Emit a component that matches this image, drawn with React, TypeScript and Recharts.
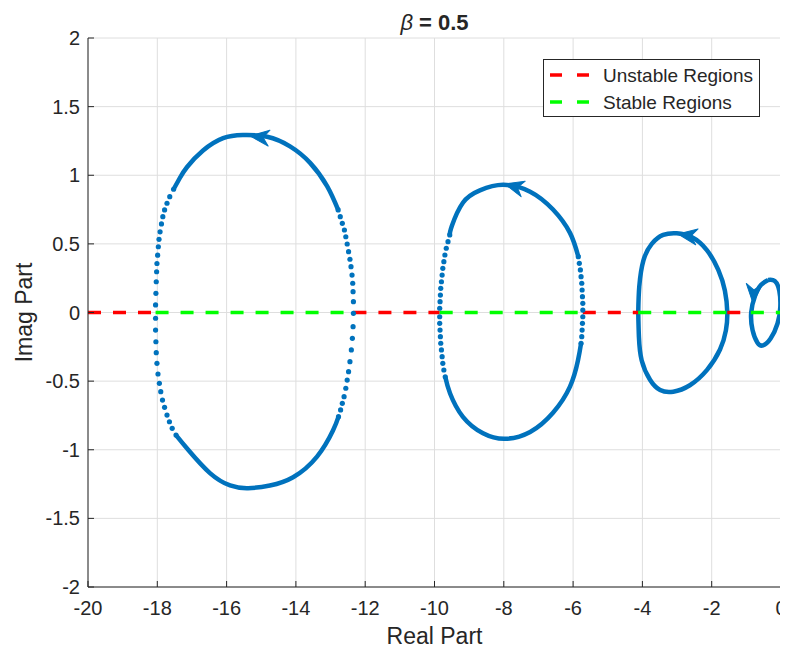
import React from 'react';
import { ComposedChart, Line, Scatter, XAxis, YAxis, CartesianGrid, Legend, Customized } from 'recharts';

const FONT = '"Liberation Sans", Arial, Helvetica, sans-serif';
const BLUE = '#0072BD';
const RED = '#FF0000';
const GREEN = '#00FF00';
const AXIS = '#262626';
const GRID = '#dedede';

const xTicks = [-20, -18, -16, -14, -12, -10, -8, -6, -4, -2, 0];
const yTicks = [-2, -1.5, -1, -0.5, 0, 0.5, 1, 1.5, 2];

const legendNames = ['Unstable Regions', 'Stable Regions'];
const legendColors = [RED, GREEN];

// real-axis segments [from, to]
const unstableSegments: [number, number][] = [[-20, -18.05], [-12.34, -9.85], [-5.72, -4.12], [-1.55, -0.87]];
const stableSegments: [number, number][] = [[-18.05, -12.34], [-9.85, -5.72], [-4.12, -1.55], [-0.87, 0]];

// loop 1 (around -15)
const loop1Top: [number, number][] = [[-17.53, 0.898], [-17.35, 0.98], [-17.14, 1.06], [-16.68, 1.18], [-16.1, 1.27], [-15.53, 1.293], [-14.83, 1.28], [-14.17, 1.21], [-13.59, 1.09], [-13.1, 0.92], [-12.78, 0.747]];
const loop1Bottom: [number, number][] = [[-17.46, -0.893], [-17.11, -1.0], [-16.48, -1.17], [-15.9, -1.26], [-15.38, -1.28], [-14.75, -1.26], [-14.08, -1.2], [-13.39, -1.05], [-12.93, -0.86], [-12.77, -0.759]];
const loop1DotsLeft: [number, number][] = [[-17.53, 0.898], [-17.64, 0.844], [-17.72, 0.796], [-17.79, 0.747], [-17.84, 0.698], [-17.88, 0.645], [-17.92, 0.588], [-17.95, 0.533], [-17.97, 0.479], [-17.99, 0.418], [-18.01, 0.357], [-18.02, 0.297], [-18.03, 0.224], [-18.04, 0.14], [-18.05, 0.055], [-18.05, -0.042], [-18.05, -0.128], [-18.04, -0.213], [-18.03, -0.293], [-18.01, -0.37], [-17.98, -0.448], [-17.94, -0.516], [-17.9, -0.577], [-17.85, -0.638], [-17.79, -0.691], [-17.72, -0.747], [-17.65, -0.796], [-17.57, -0.844], [-17.46, -0.893]];
const loop1DotsRight: [number, number][] = [[-12.78, 0.747], [-12.72, 0.698], [-12.66, 0.65], [-12.6, 0.601], [-12.56, 0.552], [-12.52, 0.499], [-12.48, 0.443], [-12.44, 0.388], [-12.41, 0.334], [-12.38, 0.273], [-12.36, 0.213], [-12.35, 0.152], [-12.34, 0.079], [-12.34, -0.006], [-12.35, -0.103], [-12.37, -0.188], [-12.4, -0.273], [-12.44, -0.358], [-12.48, -0.431], [-12.52, -0.492], [-12.56, -0.552], [-12.61, -0.613], [-12.66, -0.662], [-12.71, -0.71], [-12.77, -0.759]];

// loop 2 (around -8)
const loop2Top: [number, number][] = [[-9.56, 0.565], [-9.5, 0.63], [-9.18, 0.8], [-8.69, 0.89], [-8.02, 0.93], [-7.24, 0.88], [-6.58, 0.75], [-6.09, 0.58], [-5.85, 0.407]];
const loop2Bottom: [number, number][] = [[-9.69, -0.468], [-9.55, -0.59], [-9.18, -0.76], [-8.6, -0.88], [-7.97, -0.92], [-7.24, -0.87], [-6.58, -0.73], [-6.09, -0.54], [-5.86, -0.35], [-5.77, -0.224]];
const loop2DotsLeft: [number, number][] = [[-9.56, 0.565], [-9.61, 0.516], [-9.66, 0.468], [-9.7, 0.419], [-9.73, 0.37], [-9.76, 0.322], [-9.78, 0.273], [-9.8, 0.224], [-9.82, 0.176], [-9.83, 0.127], [-9.84, 0.079], [-9.85, 0.031], [-9.85, -0.031], [-9.85, -0.079], [-9.84, -0.128], [-9.83, -0.176], [-9.82, -0.224], [-9.8, -0.273], [-9.78, -0.322], [-9.76, -0.37], [-9.73, -0.419], [-9.69, -0.468]];
const loop2DotsRight: [number, number][] = [[-5.85, 0.407], [-5.82, 0.358], [-5.79, 0.31], [-5.77, 0.261], [-5.75, 0.213], [-5.74, 0.164], [-5.73, 0.115], [-5.72, 0.067], [-5.72, 0.018], [-5.72, -0.031], [-5.73, -0.079], [-5.74, -0.128], [-5.75, -0.176], [-5.77, -0.224]];

// loop 3 (around -3)
const loop3: [number, number][] = [[-4.12, 0], [-4.09, 0.19], [-3.97, 0.38], [-3.73, 0.5], [-3.4, 0.565], [-3.01, 0.577], [-2.58, 0.55], [-2.14, 0.455], [-1.81, 0.31], [-1.62, 0.16], [-1.55, 0], [-1.59, -0.13], [-1.76, -0.27], [-2.14, -0.42], [-2.63, -0.53], [-3.11, -0.577], [-3.49, -0.565], [-3.78, -0.49], [-4.02, -0.35], [-4.1, -0.18], [-4.12, 0]];

// loop 4 (near 0)
const loop4: [number, number][] = [[-0.37, 0.237], [-0.58, 0.2], [-0.75, 0.12], [-0.86, 0.0], [-0.82, -0.13], [-0.68, -0.22], [-0.52, -0.24], [-0.3, -0.19], [-0.1, -0.08], [-0.02, 0.04], [-0.05, 0.16], [-0.18, 0.23], [-0.37, 0.237]];

// arrow tips: x, y, direction angle (deg, 0 = pointing left)
const arrows = [
  { x: -15.32, y: 1.286, angle: 6.5 },
  { x: -7.97, y: 0.936, angle: 15 },
  { x: -2.97, y: 0.572, angle: 8.7 },
  { x: -0.81, y: 0.07, angle: -86 },
];

const pts = (a: [number, number][]) => a.map(([x, y]) => ({ x, y }));
const seg = (s: [number, number]) => [{ x: s[0], y: 0 }, { x: s[1], y: 0 }];

const Dot = (p: any) => <circle cx={p.cx} cy={p.cy} r={2.6} fill={BLUE} />;
const Arrow = (p: any) => (
  <polygon
    points="0,0 19,-8 13,0 19,8"
    fill={BLUE}
    stroke={BLUE}
    strokeWidth={1}
    strokeLinejoin="round"
    transform={`translate(${p.cx},${p.cy}) rotate(${p.payload.angle})`}
  />
);

const LegendBox = () => (
  <svg width={217} height={58} style={{ display: 'block' }}>
    <rect x={0.5} y={0.5} width={216} height={57} fill="#fff" stroke={AXIS} strokeWidth={1} />
    {legendNames.map((name, i) => (
      <g key={name}>
        <line x1={7} x2={47} y1={16 + i * 27} y2={16 + i * 27} stroke={legendColors[i]} strokeWidth={3.5} strokeDasharray="12 15" />
        <text x={60} y={16 + i * 27} dy="0.35em" fontSize={19} fill={AXIS} fontFamily={FONT}>{name}</text>
      </g>
    ))}
  </svg>
);

const Texts = () => (
  <g fontFamily={FONT} fill={AXIS}>
    <text x={426.5} y={22} textAnchor="middle" fontSize={22} fontWeight="bold">
      <tspan fontStyle="italic" fontWeight="normal">β</tspan> = 0.5
    </text>
    <text x={426.5} y={636} textAnchor="middle" fontSize={23}>Real Part</text>
    <text x={24} y={304.5} textAnchor="middle" fontSize={23} transform="rotate(-90 24 304.5)">Imag Part</text>
  </g>
);

export default function App() {
  const tickStyle = { fontSize: 20, fill: AXIS, fontFamily: FONT };
  const blueLine = { stroke: BLUE, strokeWidth: 4.5, dot: false, activeDot: false, isAnimationActive: false, legendType: 'none' as const, type: 'natural' as const };
  return (
    <div style={{ width: 780, height: 645, position: 'relative' }}>
      <ComposedChart width={780} height={645} margin={{ top: 30, right: 7, left: 0, bottom: 0 }}>
        <CartesianGrid stroke={GRID} strokeWidth={1} horizontalValues={yTicks} verticalValues={xTicks} />
        <XAxis
          type="number"
          dataKey="x"
          domain={[-20, 0]}
          ticks={xTicks}
          height={66}
          tick={tickStyle}
          tickSize={-6}
          tickMargin={20}
          stroke={AXIS}
          axisLine={{ stroke: AXIS, strokeWidth: 1 }}
          tickLine={{ stroke: AXIS }}
        />
        <YAxis
          type="number"
          dataKey="y"
          domain={[-2, 2]}
          ticks={yTicks}
          width={80}
          tick={tickStyle}
          tickSize={-6}
          tickMargin={14}
          stroke={AXIS}
          axisLine={{ stroke: AXIS, strokeWidth: 1 }}
          tickLine={{ stroke: AXIS }}
        />
        <Line data={pts(loop1Top)} dataKey="y" {...blueLine} />
        <Line data={pts(loop1Bottom)} dataKey="y" {...blueLine} />
        <Line data={pts(loop2Top)} dataKey="y" {...blueLine} />
        <Line data={pts(loop2Bottom)} dataKey="y" {...blueLine} />
        <Line data={pts(loop3)} dataKey="y" {...blueLine} />
        <Line data={pts(loop4)} dataKey="y" {...blueLine} />
        <Scatter data={pts(loop1DotsLeft)} dataKey="y" shape={Dot} isAnimationActive={false} legendType="none" />
        <Scatter data={pts(loop1DotsRight)} dataKey="y" shape={Dot} isAnimationActive={false} legendType="none" />
        <Scatter data={pts(loop2DotsLeft)} dataKey="y" shape={Dot} isAnimationActive={false} legendType="none" />
        <Scatter data={pts(loop2DotsRight)} dataKey="y" shape={Dot} isAnimationActive={false} legendType="none" />
        <Scatter data={arrows} dataKey="y" shape={Arrow} isAnimationActive={false} legendType="none" />
        {unstableSegments.map((s, i) => (
          <Line key={'u' + i} data={seg(s)} dataKey="y" name={legendNames[0]} stroke={RED} strokeWidth={3.5}
            strokeDasharray="13 12" dot={false} activeDot={false} isAnimationActive={false}
            legendType="none" type="linear" />
        ))}
        {stableSegments.map((s, i) => (
          <Line key={'s' + i} data={seg(s)} dataKey="y" name={legendNames[1]} stroke={GREEN} strokeWidth={3.5}
            strokeDasharray="13 12" dot={false} activeDot={false} isAnimationActive={false}
            legendType="none" type="linear" />
        ))}
        <Legend
          layout="vertical"
          align="center"
          verticalAlign="middle"
          content={<LegendBox />}
          wrapperStyle={{ position: 'absolute', left: 535, top: 51, width: 217, height: 58 }}
        />
        <Customized component={Texts} />
      </ComposedChart>
    </div>
  );
}
